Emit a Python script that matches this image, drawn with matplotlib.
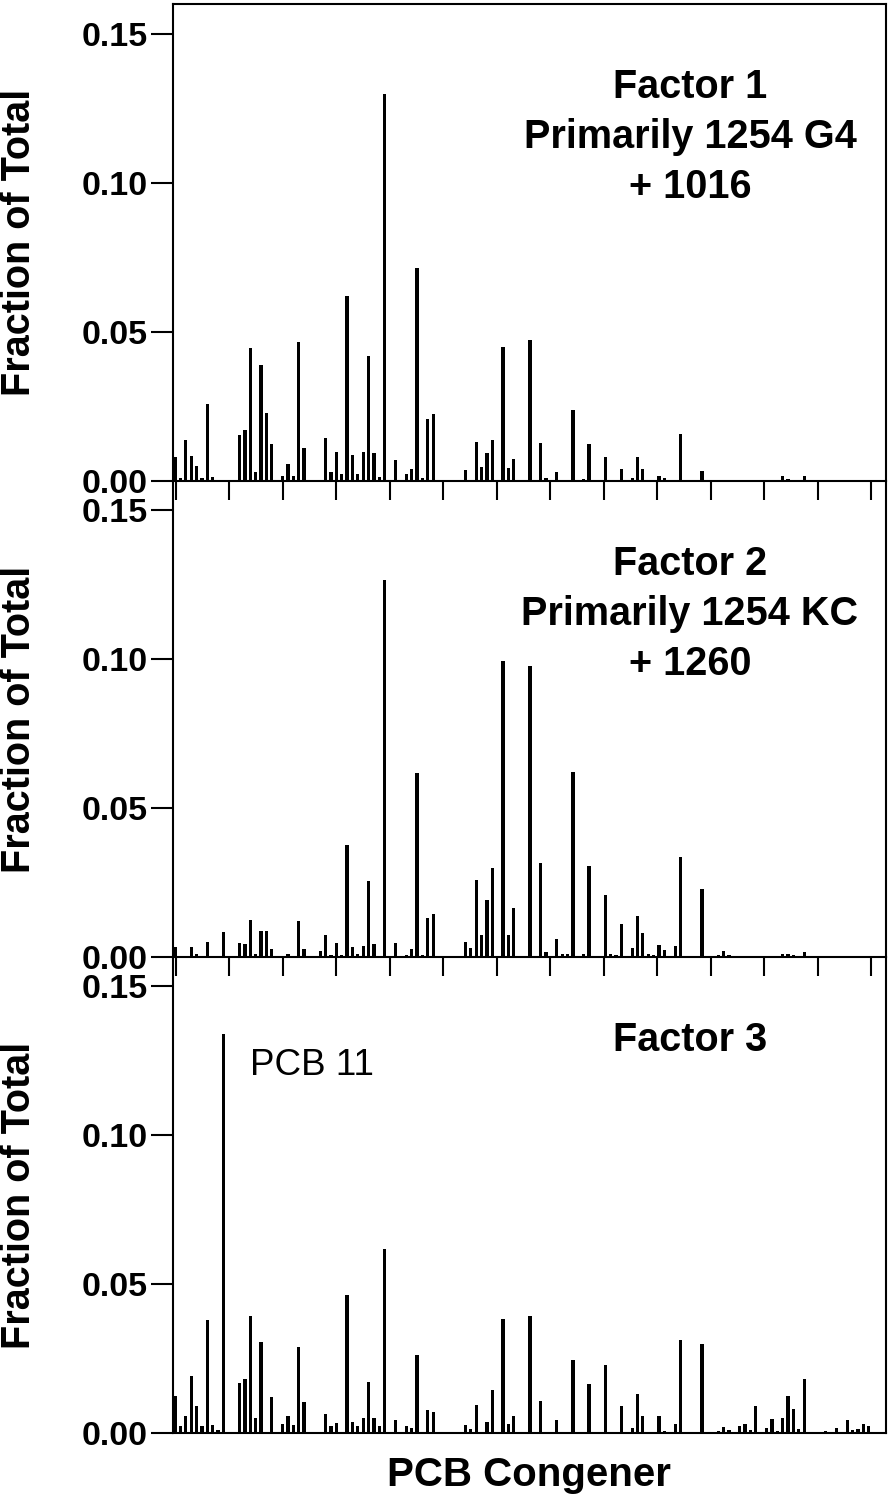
import numpy as np
import matplotlib
matplotlib.use("Agg")
import matplotlib.pyplot as plt

plt.rcParams["font.family"] = ["Liberation Sans", "DejaVu Sans"]

# fraction of total per congener slot (132 slots, rows of 10)
factor1 = [
    0.0081, 0.0011, 0.0136, 0.0084, 0.0050, 0.0011, 0.0257, 0.0013, 0, 0,
    0, 0, 0.0154, 0.0170, 0.0447, 0.0031, 0.0389, 0.0228, 0.0125, 0,
    0.0018, 0.0056, 0.0018, 0.0465, 0.0110, 0, 0, 0, 0.0145, 0.0031,
    0.0096, 0.0022, 0.0620, 0.0087, 0.0025, 0.0096, 0.0420, 0.0094, 0.0013, 0.1300,
    0, 0.0072, 0, 0.0025, 0.0040, 0.0715, 0.0011, 0.0208, 0.0224, 0,
    0, 0, 0, 0, 0.0036, 0, 0.0130, 0.0047, 0.0094, 0.0138,
    0, 0.0450, 0.0045, 0.0074, 0.0005, 0, 0.0474, 0, 0.0128, 0.0011,
    0, 0.0029, 0.0005, 0, 0.0237, 0, 0.0008, 0.0123, 0, 0,
    0.0079, 0, 0, 0.0041, 0, 0.0010, 0.0082, 0.0041, 0, 0,
    0.0018, 0.0011, 0, 0.0004, 0.0159, 0, 0, 0, 0.0034, 0,
    0, 0, 0.0005, 0.0002, 0, 0, 0, 0, 0.0004, 0,
    0, 0, 0, 0.0016, 0.0007, 0.0005, 0, 0.0018, 0, 0,
    0, 0, 0, 0, 0, 0, 0, 0, 0, 0,
    0, 0,
]

factor2 = [
    0.0034, 0, 0, 0.0034, 0.0009, 0, 0.0050, 0, 0, 0.0085,
    0, 0, 0.0048, 0.0043, 0.0125, 0.0011, 0.0087, 0.0087, 0.0027, 0,
    0, 0.0011, 0, 0.0120, 0.0027, 0, 0, 0.0020, 0.0075, 0.0007,
    0.0048, 0.0007, 0.0376, 0.0034, 0.0011, 0.0038, 0.0255, 0.0043, 0, 0.1265,
    0, 0.0048, 0, 0.0008, 0.0027, 0.0617, 0.0007, 0.0132, 0.0145, 0,
    0, 0, 0, 0, 0.0049, 0.0029, 0.0260, 0.0075, 0.0190, 0.0298,
    0, 0.0993, 0.0074, 0.0163, 0, 0, 0.0977, 0.0004, 0.0315, 0.0018,
    0, 0.0060, 0.0009, 0.0011, 0.0620, 0, 0.0011, 0.0304, 0, 0,
    0.0207, 0.0011, 0.0007, 0.0112, 0, 0.0029, 0.0136, 0.0080, 0.0010, 0.0007,
    0.0040, 0.0022, 0, 0.0036, 0.0336, 0, 0, 0, 0.0228, 0,
    0.0004, 0.0007, 0.0020, 0.0007, 0, 0, 0, 0, 0.0004, 0,
    0.0002, 0, 0, 0.0011, 0.0009, 0.0007, 0, 0.0018, 0, 0,
    0, 0, 0, 0, 0, 0, 0, 0, 0, 0,
    0, 0,
]

factor3 = [
    0.0125, 0.0022, 0.0058, 0.0190, 0.0089, 0.0022, 0.0380, 0.0027, 0.0009, 0.1340,
    0, 0, 0.0168, 0.0181, 0.0391, 0.0049, 0.0306, 0, 0.0121, 0,
    0.0031, 0.0058, 0.0027, 0.0290, 0.0105, 0, 0, 0, 0.0065, 0.0022,
    0.0034, 0, 0.0463, 0.0038, 0.0022, 0.0049, 0.0172, 0.0051, 0.0022, 0.0617,
    0, 0.0045, 0, 0.0022, 0.0018, 0.0263, 0, 0.0076, 0.0069, 0,
    0, 0, 0, 0, 0.0027, 0.0013, 0.0095, 0, 0.0036, 0.0145,
    0, 0.0383, 0.0031, 0.0058, 0, 0, 0.0391, 0, 0.0107, 0.0004,
    0, 0.0045, 0.0004, 0, 0.0246, 0, 0.0004, 0.0166, 0, 0,
    0.0228, 0.0004, 0, 0.0092, 0, 0.0018, 0.0130, 0.0058, 0, 0,
    0.0058, 0.0007, 0, 0.0029, 0.0311, 0, 0, 0, 0.0298, 0,
    0, 0.0007, 0.0020, 0.0011, 0, 0.0025, 0.0029, 0.0011, 0.0092, 0,
    0.0018, 0.0047, 0.0007, 0.0051, 0.0123, 0.0081, 0.0013, 0.0181, 0, 0.0004,
    0, 0.0007, 0, 0.0016, 0, 0.0043, 0.0011, 0.0013, 0.0029, 0.0025,
    0, 0,
]

factors = [factor1, factor2, factor3]
factor_titles = [
    ["Factor 1", "Primarily 1254 G4", "+ 1016"],
    ["Factor 2", "Primarily 1254 KC", "+ 1260"],
    ["Factor 3"],
]
yticks = [0.00, 0.05, 0.10, 0.15]

W, H = 895, 1500
fig = plt.figure(figsize=(W / 100, H / 100), dpi=100)

# panel pixel extents (top, bottom)
panels_px = [(4, 481), (481, 957), (957, 1433)]
left_px, right_px = 173, 886
slot_px = 5.378

for k, (vals, (top, bot)) in enumerate(zip(factors, panels_px)):
    ax = fig.add_axes([left_px / W, 1 - bot / H,
                       (right_px - left_px) / W, (bot - top) / H])
    ax.patch.set_visible(False)
    x = np.arange(len(vals))
    ax.bar(x, vals, width=0.6, color="black", linewidth=0)
    ax.set_xlim(-2 / slot_px, (right_px - 175) / slot_px)
    ax.set_ylim(0, 0.15 * (bot - top) / 447)

    ax.set_yticks(yticks)
    ax.set_yticklabels([f"{v:.2f}" for v in yticks])
    ax.tick_params(axis="y", direction="out", length=16, width=1.5, pad=2,
                   labelsize=24.5)
    for lab in ax.get_yticklabels():
        lab.set_fontweight("bold")

    if k < 2:
        ax.set_xticks(0.15 + 9.95 * np.arange(14))
        ax.tick_params(axis="x", direction="out", length=14, width=1.5,
                       labelbottom=False)
    else:
        ax.set_xticks([])

    for sp in ax.spines.values():
        sp.set_linewidth(1.5)
    if k > 0:
        ax.spines["top"].set_visible(False)

    fig.text(19 / W, 1 - (top + bot) / 2 / H, "Fraction of Total",
             rotation=90, ha="center", va="center", fontsize=28.5,
             fontweight="bold")

    for j, line in enumerate(factor_titles[k]):
        fig.text(690 / W, 1 - (top + 94 + 50 * j) / H, line,
                 ha="center", va="baseline", fontsize=28.5, fontweight="bold")

fig.text(250 / W, 1 - 1075 / H, "PCB 11", ha="left", va="baseline",
         fontsize=26.5)
fig.text(529 / W, 1 - 1486 / H, "PCB Congener", ha="center", va="baseline",
         fontsize=29, fontweight="bold")

fig.savefig("out.png", dpi=100)
